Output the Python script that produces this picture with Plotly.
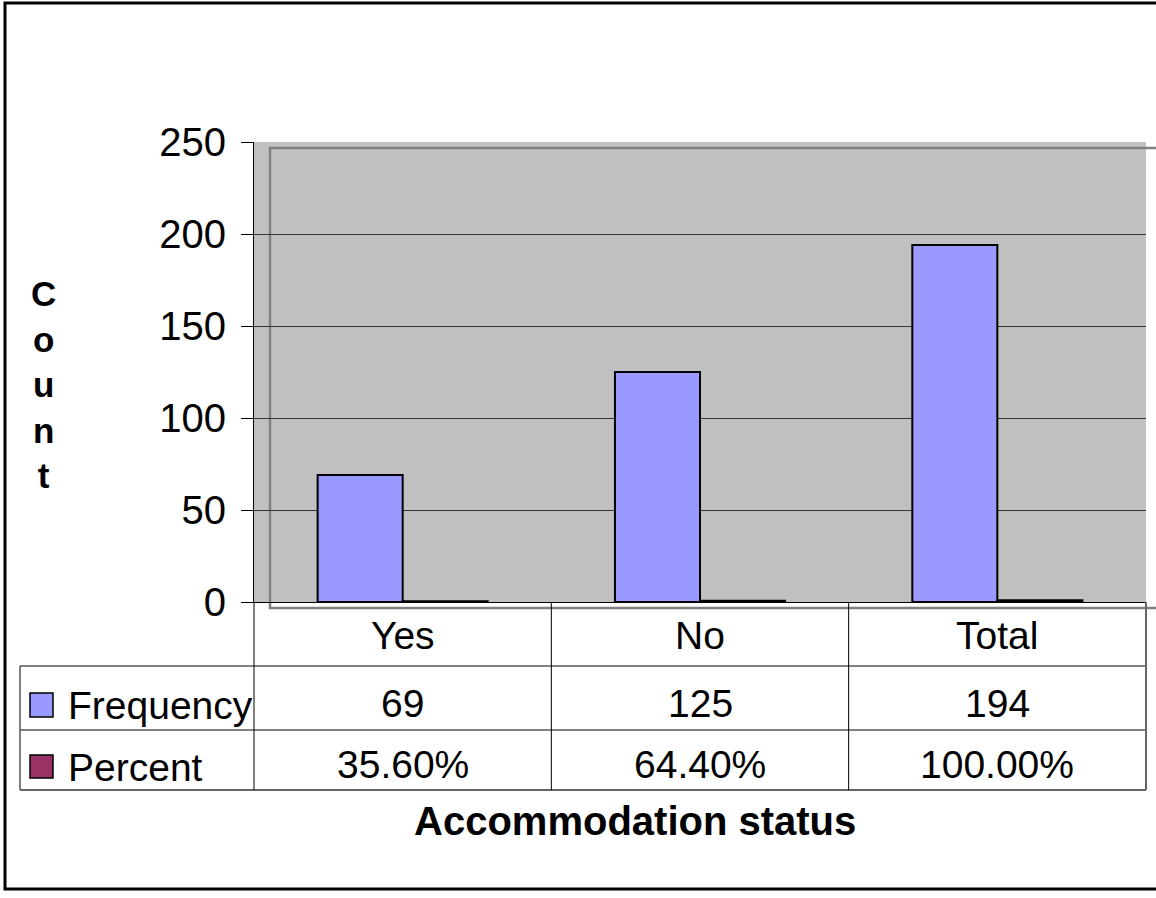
import plotly.graph_objects as go

categories = ['Yes', 'No', 'Total']
frequency = [69, 125, 194]
percent = [0.356, 0.644, 1.0]
percent_labels = ['35.60%', '64.40%', '100.00%']
series_names = ['Frequency', 'Percent']
series_colors = ['#9999FF', '#993366']
y_ticks = [0, 50, 100, 150, 200, 250]

FONT = 'Arial, Liberation Sans, sans-serif'
W, H = 1156, 898
L, R, T, B = 254, 10, 142, 296
PW, PH = W - L - R, H - T - B


# pixel -> paper helpers for the decorations around the plot
def px(p):
    return (p - L) / PW


def py(p):
    return (H - B - p) / PH


fig = go.Figure()
fig.add_trace(go.Bar(x=categories, y=frequency, name=series_names[0],
                     marker=dict(color=series_colors[0], line=dict(color='black', width=2))))
fig.add_trace(go.Bar(x=categories, y=percent, name=series_names[1],
                     marker=dict(color=series_colors[1], line=dict(color='black', width=2))))

shapes = []
# 3d-ish back wall frame
shapes.append(dict(type='rect', xref='paper', yref='paper', x0=px(270), x1=px(1162), y0=py(608), y1=py(148),
                   line=dict(color='#808080', width=2.5), layer='below'))
# data table lines
for yy, col, w in [(666, 'black', 1), (730, 'black', 1), (790, '#666666', 2)]:
    shapes.append(dict(type='line', xref='paper', yref='paper', x0=px(20), x1=px(1146), y0=py(yy), y1=py(yy),
                       line=dict(color=col, width=w)))
shapes.append(dict(type='line', xref='paper', yref='paper', x0=px(20), x1=px(20), y0=py(666), y1=py(790),
                   line=dict(color='#555555', width=1.5)))
for i in range(len(categories) + 1):
    xx = i / len(categories)
    col, w = ('#666666', 2) if i == len(categories) else ('black', 1)
    shapes.append(dict(type='line', xref='paper', yref='paper', x0=xx, x1=xx, y0=py(602), y1=py(790),
                       line=dict(color=col, width=w)))
# legend keys in the table
for k, (y0, y1) in enumerate([(693, 717), (755, 778)]):
    shapes.append(dict(type='rect', xref='paper', yref='paper', x0=px(30), x1=px(53), y0=py(y1), y1=py(y0),
                       fillcolor=series_colors[k], line=dict(color='black', width=1.5)))
# outer chart border
shapes.append(dict(type='rect', xref='paper', yref='paper', x0=px(5), x1=px(1163), y0=py(889), y1=py(3),
                   line=dict(color='black', width=3)))

txt = dict(showarrow=False, yanchor='middle', font=dict(size=39, color='black'))
annotations = []
for c, f, p in zip(categories, frequency, percent_labels):
    annotations.append(dict(x=c, xref='x', xanchor='center', y=py(635), yref='paper', text=c, **txt))
    annotations.append(dict(x=c, xref='x', xanchor='center', y=py(703), yref='paper', text=str(f), **txt))
    annotations.append(dict(x=c, xref='x', xanchor='center', y=py(764), yref='paper', text=p, **txt))
for name, yy in zip(series_names, [705, 767]):
    annotations.append(dict(x=px(66), xref='paper', y=py(yy), yref='paper', text=name,
                            xanchor='left', **txt))
annotations.append(dict(x=px(635), xref='paper', xanchor='center', y=py(821), yref='paper',
                        text='<b>Accommodation status</b>', showarrow=False, yanchor='middle',
                        font=dict(size=40, color='black')))
annotations.append(dict(x=px(43), xref='paper', xanchor='center', y=py(384), yref='paper',
                        text='<b>C<br>o<br>u<br>n<br>t</b>', showarrow=False, yanchor='middle',
                        font=dict(size=35, color='black')))

fig.update_layout(
    width=W, height=H,
    margin=dict(l=L, r=R, t=T, b=B, pad=0),
    paper_bgcolor='white', plot_bgcolor='#C0C0C0',
    font=dict(family=FONT, size=40, color='black'),
    barmode='group', bargap=0.428, bargroupgap=0,
    showlegend=False,
    shapes=shapes, annotations=annotations,
)
fig.update_xaxes(showticklabels=False, ticks='', showline=True, linecolor='black', linewidth=1,
                 showgrid=False, zeroline=False)
fig.update_yaxes(range=[0, 250], tickvals=y_ticks, ticks='outside', ticklen=12, tickcolor='black',
                 showline=True, linecolor='black', linewidth=1, showgrid=True, gridcolor='#333333',
                 gridwidth=1, zeroline=False, ticklabelstandoff=7, tickfont=dict(size=40))

fig.write_html("out.html", config={'displayModeBar': False},
               post_script="document.body.style.margin='0';document.body.style.overflow='hidden';")
